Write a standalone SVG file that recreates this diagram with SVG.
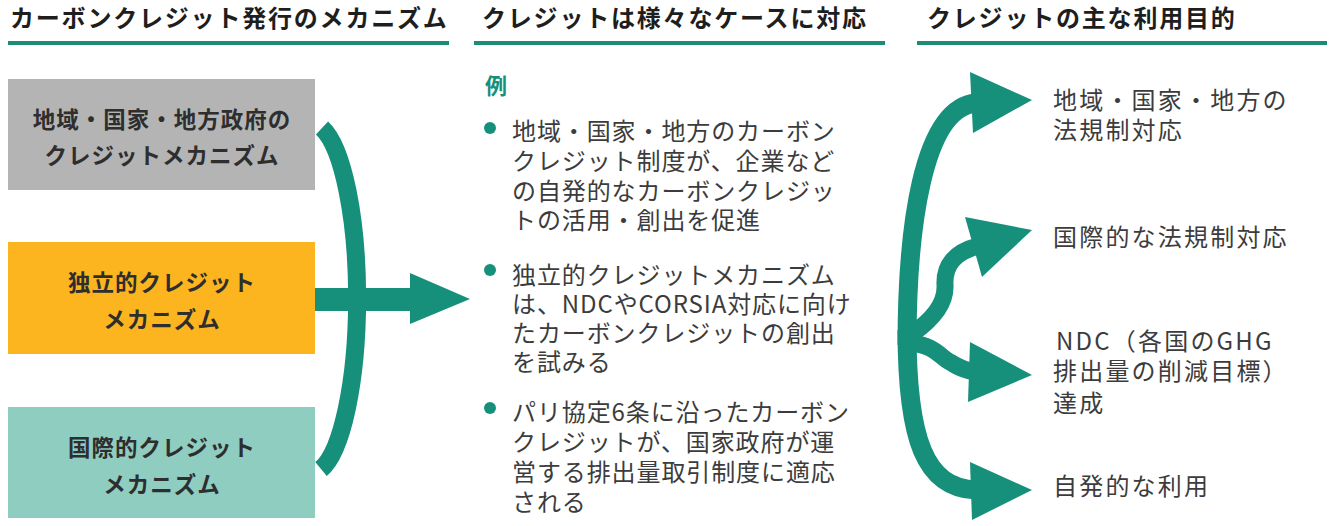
<svg xmlns="http://www.w3.org/2000/svg" width="1333" height="526" viewBox="0 0 1333 526">
<style>
text{font-family:"Noto Sans CJK JP","Noto Sans",sans-serif;}
.h{font-size:24px;font-weight:700;fill:#1e1e1e;letter-spacing:1.8px;}
.bx{font-size:22.5px;font-weight:700;fill:#2e2e2e;letter-spacing:1px;text-anchor:middle;}
.m{font-size:24px;fill:#3c3c3c;letter-spacing:0.9px;}
.r{font-size:24px;fill:#3c3c3c;letter-spacing:2.2px;}
.ul{fill:#1c8c76;}
.t{fill:#17907b;}
.s{fill:none;stroke:#17907b;stroke-width:19;}
</style>
<rect width="1333" height="526" fill="#fff"/>
<g id="headers">
<text class="h" x="10" y="27">カーボンクレジット発行のメカニズム</text>
<rect class="ul" x="8" y="41" width="441" height="4"/>
<text class="h" x="482" y="27">クレジットは様々なケースに対応</text>
<rect class="ul" x="474" y="41" width="411" height="4"/>
<text class="h" x="927" y="27">クレジットの主な利用目的</text>
<rect class="ul" x="917" y="41" width="410" height="4"/>
</g>
<g id="node-local">
<rect x="8" y="79" width="307" height="111" fill="#b4b4b4"/>
<text class="bx" x="162" y="128">地域・国家・地方政府の</text>
<text class="bx" x="162" y="164">クレジットメカニズム</text>
</g>
<g id="node-independent">
<rect x="8" y="242" width="307" height="112" fill="#fcb51f"/>
<text class="bx" x="162" y="291">独立的クレジット</text>
<text class="bx" x="162" y="328">メカニズム</text>
</g>
<g id="node-international">
<rect x="8" y="407" width="307" height="111" fill="#8ecdc0"/>
<text class="bx" x="162" y="456">国際的クレジット</text>
<text class="bx" x="162" y="493">メカニズム</text>
</g>
<g id="node-examples">
<text x="485" y="94" style="font-size:22px;font-weight:700;fill:#17907b;">例</text>
<circle class="t" cx="490" cy="128" r="6"/>
<text class="m" x="512" y="140">地域・国家・地方のカーボン</text>
<text class="m" x="512" y="170">クレジット制度が、企業など</text>
<text class="m" x="512" y="200">の自発的なカーボンクレジッ</text>
<text class="m" x="512" y="229">トの活用・創出を促進</text>
<circle class="t" cx="490" cy="270" r="6"/>
<text class="m" x="512" y="284">独立的クレジットメカニズム</text>
<text class="m" x="512" y="313">は、NDCやCORSIA対応に向け</text>
<text class="m" x="512" y="342">たカーボンクレジットの創出</text>
<text class="m" x="512" y="371">を試みる</text>
<circle class="t" cx="490" cy="408" r="6"/>
<text class="m" x="512" y="421">パリ協定6条に沿ったカーボン</text>
<text class="m" x="512" y="451">クレジットが、国家政府が運</text>
<text class="m" x="512" y="481">営する排出量取引制度に適応</text>
<text class="m" x="512" y="511">される</text>
</g>
<g id="node-purpose1">
<text class="r" x="1053" y="109">地域・国家・地方の</text>
<text class="r" x="1053" y="139">法規制対応</text>
</g>
<g id="node-purpose2">
<text class="r" x="1053" y="246">国際的な法規制対応</text>
</g>
<g id="node-purpose3">
<text class="r" x="1056" y="350">NDC（各国のGHG</text>
<text class="r" x="1053" y="380">排出量の削減目標）</text>
<text class="r" x="1053" y="412">達成</text>
</g>
<g id="node-purpose4">
<text class="r" x="1053" y="495">自発的な利用</text>
</g>
<g id="connectors">
<path class="s" d="M 322,128 A 46 175 0 0 1 321,469" style="stroke-width:18"/>
<rect class="t" x="315" y="288" width="97" height="23"/>
<polygon class="t" points="410,273 470,299 410,324"/>
<path class="s" d="M 907,345 C 907,230 922,108 976,103"/>
<polygon class="t" points="970,72 1032,100 973,133"/>
<path class="s" d="M 907,330 C 907,440 925,488 976,490"/>
<polygon class="t" points="970,462 1032,490 972,520"/>
<path class="s" d="M 912,334 C 935,318 946,302 945,285 C 944,265 955,252 978,246" style="stroke-width:17"/>
<polygon class="t" points="965,217 1032,230 982,277"/>
<path class="s" d="M 910,343 C 935,345 940,357 950,362 C 958,367 965,371 976,372" style="stroke-width:17"/>
<polygon class="t" points="970,342 1032,375 968,402"/>
</g>
</svg>
